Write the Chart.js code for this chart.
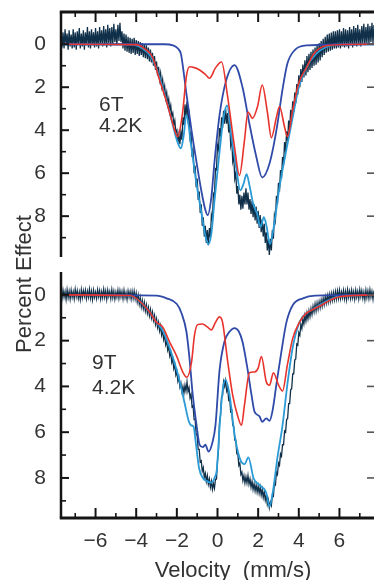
<!DOCTYPE html>
<html>
<head>
<meta charset="utf-8">
<script src="https://cdn.jsdelivr.net/npm/chart.js@4.4.1/dist/chart.umd.min.js"></script>
<style>
  html, body { margin: 0; padding: 0; background: #fff; }
  #wrap { position: relative; width: 374px; height: 580px; overflow: hidden; background: #fff; }
  .pane { position: absolute; left: 0; width: 374px; }
  .lbl { position: absolute; font-family: "Liberation Sans", Arial, sans-serif; color: #333; white-space: pre; }
</style>
</head>
<body>
<div id="wrap">
  <div class="pane" style="top:0;height:265px"><canvas id="c1"></canvas></div>
  <div class="pane" style="top:265px;height:315px"><canvas id="c2"></canvas></div>
  <div class="lbl" style="left:99px;top:93px;font-size:21px;line-height:21px">6T</div>
  <div class="lbl" style="left:99px;top:114px;font-size:21px;line-height:21px">4.2K</div>
  <div class="lbl" style="left:92px;top:351px;font-size:21px;line-height:21px">9T</div>
  <div class="lbl" style="left:92px;top:376px;font-size:21px;line-height:21px">4.2K</div>
  <div class="lbl" style="left:-76px;top:273px;width:200px;height:22px;text-align:center;font-size:22px;line-height:22px;transform:rotate(-90deg)">Percent Effect</div>
  <div class="lbl" style="left:0;top:559px;width:466px;text-align:center;font-size:22px;line-height:22px">Velocity  (mm/s)</div>
</div>
<script>
// ---------- tick values ----------
const xMajorTicks = [-6, -4, -2, 0, 2, 4, 6];
const xMinorTicks = [-7, -5, -3, -1, 1, 3, 5, 7];
const yMajorTicks = [0, 2, 4, 6, 8];
const yMinorTicks = [1, 3, 5, 7, 9];

// ---------- measured spectra: velocity channels (mm/s) ----------
const velocity = [
 -7.70,-7.65,-7.60,-7.55,-7.50,-7.45,-7.40,-7.35,-7.30,-7.25,
 -7.20,-7.15,-7.10,-7.05,-7.00,-6.95,-6.90,-6.85,-6.80,-6.75,
 -6.70,-6.65,-6.60,-6.55,-6.50,-6.45,-6.40,-6.35,-6.30,-6.25,
 -6.20,-6.15,-6.10,-6.05,-6.00,-5.95,-5.90,-5.85,-5.80,-5.75,
 -5.70,-5.65,-5.60,-5.55,-5.50,-5.45,-5.40,-5.35,-5.30,-5.25,
 -5.20,-5.15,-5.10,-5.05,-5.00,-4.95,-4.90,-4.85,-4.80,-4.75,
 -4.70,-4.65,-4.60,-4.55,-4.50,-4.45,-4.40,-4.35,-4.30,-4.25,
 -4.20,-4.15,-4.10,-4.05,-4.00,-3.95,-3.90,-3.85,-3.80,-3.75,
 -3.70,-3.65,-3.60,-3.55,-3.50,-3.45,-3.40,-3.35,-3.30,-3.25,
 -3.20,-3.15,-3.10,-3.05,-3.00,-2.95,-2.90,-2.85,-2.80,-2.75,
 -2.70,-2.65,-2.60,-2.55,-2.50,-2.45,-2.40,-2.35,-2.30,-2.25,
 -2.20,-2.15,-2.10,-2.05,-2.00,-1.95,-1.90,-1.85,-1.80,-1.75,
 -1.70,-1.65,-1.60,-1.55,-1.50,-1.45,-1.40,-1.35,-1.30,-1.25,
 -1.20,-1.15,-1.10,-1.05,-1.00,-0.95,-0.90,-0.85,-0.80,-0.75,
 -0.70,-0.65,-0.60,-0.55,-0.50,-0.45,-0.40,-0.35,-0.30,-0.25,
 -0.20,-0.15,-0.10,-0.05,0.00,0.05,0.10,0.15,0.20,0.25,
 0.30,0.35,0.40,0.45,0.50,0.55,0.60,0.65,0.70,0.75,
 0.80,0.85,0.90,0.95,1.00,1.05,1.10,1.15,1.20,1.25,
 1.30,1.35,1.40,1.45,1.50,1.55,1.60,1.65,1.70,1.75,
 1.80,1.85,1.90,1.95,2.00,2.05,2.10,2.15,2.20,2.25,
 2.30,2.35,2.40,2.45,2.50,2.55,2.60,2.65,2.70,2.75,
 2.80,2.85,2.90,2.95,3.00,3.05,3.10,3.15,3.20,3.25,
 3.30,3.35,3.40,3.45,3.50,3.55,3.60,3.65,3.70,3.75,
 3.80,3.85,3.90,3.95,4.00,4.05,4.10,4.15,4.20,4.25,
 4.30,4.35,4.40,4.45,4.50,4.55,4.60,4.65,4.70,4.75,
 4.80,4.85,4.90,4.95,5.00,5.05,5.10,5.15,5.20,5.25,
 5.30,5.35,5.40,5.45,5.50,5.55,5.60,5.65,5.70,5.75,
 5.80,5.85,5.90,5.95,6.00,6.05,6.10,6.15,6.20,6.25,
 6.30,6.35,6.40,6.45,6.50,6.55,6.60,6.65,6.70,6.75,
 6.80,6.85,6.90,6.95,7.00,7.05,7.10,7.15,7.20,7.25,
 7.30,7.35,7.40,7.45,7.50,7.55,7.60,7.65,7.70
];

// 6 T, 4.2 K measured spectrum (percent effect)
const data6T = [
 -0.6,0.15,-0.55,0.2,-0.7,0.05,-0.5,0.25,-0.65,0.1,
 -0.45,0.2,-0.7,0.15,-0.55,0.25,-0.6,0.0,-0.75,0.2,
 -0.5,0.1,-0.65,0.25,-0.55,0.05,-0.8,0.15,-0.6,0.2,
 -0.7,0.05,-0.55,0.15,-0.75,0.1,-0.6,0.2,-0.8,0.0,
 -0.65,0.1,-0.85,0.05,-0.7,0.15,-0.9,-0.05,-0.75,0.1,
 -0.8,0.0,-0.95,-0.1,-0.7,0.05,-0.9,-0.15,-1.0,-0.1,
 -0.6,0.2,-0.5,0.3,-0.45,0.35,-0.35,0.4,-0.3,0.45,
 -0.25,0.4,-0.3,0.5,-0.2,0.45,-0.15,0.55,-0.1,0.5,
 -0.05,0.6,0.0,0.65,0.05,0.7,0.15,0.8,0.25,0.85,
 0.4,1.0,0.55,1.2,0.8,1.45,1.05,1.65,1.35,1.95,
 1.65,2.2,1.95,2.5,2.25,2.8,2.55,3.1,2.85,3.35,
 3.2,3.75,3.55,4.1,4.0,4.6,4.2,4.65,4.1,4.45,
 3.4,3.75,2.8,3.35,2.65,3.5,3.25,4.35,4.15,5.25,
 4.95,6.0,5.65,6.65,6.25,7.25,6.85,7.85,7.45,8.45,
 8.05,8.95,8.45,9.25,8.65,9.35,8.55,9.0,7.95,8.2,
 6.95,7.05,5.8,5.85,4.7,4.9,3.9,4.3,3.4,3.9,
 3.1,3.7,3.0,3.7,3.2,4.1,3.7,4.7,4.4,5.45,
 5.2,6.25,6.0,6.95,6.6,7.45,7.0,7.7,7.05,7.65,
 6.9,7.45,6.7,7.45,6.9,7.7,7.2,7.9,7.3,8.05,
 7.45,8.2,7.55,8.35,7.75,8.55,7.95,8.75,8.15,8.95,
 8.35,9.25,8.75,9.6,9.05,9.8,9.05,9.6,8.65,9.05,
 7.95,8.2,7.05,7.45,6.45,6.85,5.85,6.25,5.25,5.6,
 4.55,5.0,4.05,4.5,3.55,4.0,3.05,3.55,2.65,3.15,
 2.25,2.75,1.85,2.35,1.45,2.0,1.15,1.75,0.95,1.55,
 0.75,1.45,0.55,1.3,0.45,1.2,0.35,1.1,0.25,1.0,
 0.15,0.95,0.05,0.85,-0.05,0.75,-0.15,0.6,-0.25,0.5,
 -0.35,0.4,-0.45,0.35,-0.5,0.3,-0.55,0.25,-0.6,0.2,
 -0.6,0.2,-0.65,0.15,-0.7,0.2,-0.6,0.1,-0.75,0.15,
 -0.7,0.1,-0.65,0.2,-0.8,0.05,-0.7,0.15,-0.85,0.05,
 -0.75,0.1,-0.9,0.0,-0.7,0.1,-0.85,-0.05,-0.95,0.05,
 -0.8,-0.05,-0.95,0.0,-0.85,-0.1,-1.0,-0.05,-0.9
];

// 9 T, 4.2 K measured spectrum (percent effect)
const data9T = [
 -0.18,0.15,-0.2,0.1,-0.15,0.2,-0.22,0.12,-0.16,0.18,
 -0.2,0.1,-0.14,0.17,-0.24,0.08,-0.18,0.15,-0.12,0.2,
 -0.22,0.12,-0.18,0.06,-0.2,0.16,-0.15,0.1,-0.24,0.14,
 -0.16,0.2,-0.2,0.1,-0.12,0.15,-0.22,0.08,-0.18,0.17,
 -0.14,0.12,-0.24,0.1,-0.17,0.19,-0.2,0.07,-0.15,0.16,
 -0.22,0.12,-0.16,0.18,-0.12,0.1,-0.2,0.15,-0.18,0.09,
 -0.15,0.17,-0.2,0.12,-0.1,0.2,-0.17,0.1,-0.14,0.18,
 -0.15,0.15,-0.16,0.18,-0.08,0.3,0.02,0.4,0.12,0.52,
 0.25,0.6,0.33,0.7,0.44,0.8,0.55,0.9,0.64,1.0,
 0.75,1.12,0.9,1.28,1.05,1.42,1.2,1.57,1.35,1.75,
 1.55,1.95,1.75,2.17,2.0,2.42,2.25,2.67,2.5,2.95,
 2.8,3.22,3.05,3.5,3.35,3.77,3.6,4.02,3.85,4.22,
 4.0,4.3,3.95,4.2,3.8,4.22,4.05,4.5,4.35,4.9,
 4.85,5.45,5.45,6.1,6.15,6.75,6.75,7.3,7.25,7.7,
 7.55,7.97,7.8,8.15,7.9,8.27,8.05,8.4,8.15,8.5,
 8.25,8.45,8.05,8.05,7.25,6.75,5.55,5.25,4.45,4.4,
 3.8,4.0,3.75,4.2,4.05,4.6,4.55,5.1,5.05,5.7,
 5.75,6.35,6.35,6.95,6.95,7.45,7.35,7.85,7.75,8.12,
 7.9,8.22,7.95,8.22,7.9,8.27,8.05,8.4,8.15,8.5,
 8.25,8.57,8.3,8.62,8.35,8.67,8.4,8.75,8.5,8.85,
 8.6,8.97,8.75,9.15,8.95,9.3,9.05,9.2,8.75,8.8,
 8.25,8.3,7.75,7.85,7.35,7.45,6.95,7.05,6.55,6.55,
 5.95,6.0,5.45,5.4,4.75,4.75,4.15,4.1,3.45,3.45,
 2.85,2.8,2.15,2.2,1.65,1.77,1.3,1.47,1.05,1.27,
 0.9,1.15,0.8,1.05,0.7,0.95,0.6,0.85,0.5,0.75,
 0.4,0.7,0.35,0.62,0.3,0.56,0.23,0.49,0.15,0.42,
 0.08,0.36,0.03,0.31,-0.02,0.27,-0.06,0.23,-0.1,0.2,
 -0.14,0.18,-0.17,0.15,-0.2,0.16,-0.13,0.12,-0.19,0.17,
 -0.15,0.2,-0.22,0.1,-0.16,0.15,-0.2,0.12,-0.14,0.18,
 -0.2,0.1,-0.15,0.17,-0.22,0.08,-0.18,0.15,-0.12,0.2,
 -0.2,0.12,-0.17,0.15,-0.22,0.1,-0.15,0.18,-0.19
];

// ---------- fitted curves, 6 T ----------
const fitTotal6T_v = [-7.7,-4.2,-3.7,-3.3,-3.0,-2.7,-2.4,-2.15,-1.95,-1.8,-1.67,-1.53,-1.3,-1.05,-0.8,-0.6,-0.45,-0.3,-0.15,0.1,0.3,0.47,0.7,0.93,1.12,1.28,1.43,1.58,1.75,1.95,2.12,2.28,2.42,2.58,2.75,3.05,3.39,3.7,4.0,4.4,4.85,5.3,5.8,7.7];
const fitTotal6T   = [0,0.02,0.2,0.55,1.15,2.0,3.0,3.95,4.6,4.85,4.3,3.3,4.7,6.4,7.8,8.9,9.3,8.8,7.3,5.0,3.4,2.85,4.4,5.8,6.8,6.5,6.05,6.6,7.4,7.9,8.5,8.05,8.5,9.3,8.6,6.65,4.9,3.4,2.0,1.05,0.45,0.15,0.03,0];

const siteA6T_v = [-7.7,-4.0,-3.6,-3.2,-2.85,-2.5,-2.2,-1.96,-1.72,-1.53,-1.38,-1.1,-0.88,-0.6,-0.39,-0.1,0.2,0.5,0.84,1.08,1.33,1.5,1.72,1.97,2.2,2.46,2.65,2.9,3.05,3.3,3.44,3.7,4.0,4.4,4.7,5.0,5.5,7.7];
const siteA6T   = [0,0.02,0.2,0.6,1.67,2.7,3.7,4.3,3.2,1.5,1.05,1.1,1.2,1.4,1.58,1.1,0.83,2.45,4.8,6.1,4.45,3.15,3.45,2.9,1.9,3.2,4.35,3.4,2.9,3.85,4.3,3.06,1.8,1.05,0.5,0.2,0.05,0];

const siteB6T_v = [-7.7,-2.6,-2.2,-1.95,-1.8,-1.7,-1.53,-1.28,-1.03,-0.8,-0.6,-0.48,-0.3,-0.15,0.1,0.43,0.84,1.23,1.57,1.9,2.2,2.56,2.9,3.2,3.44,3.8,4.4,7.7];
const siteB6T   = [0,0,0.05,0.2,0.45,1.05,2.3,4.0,5.5,6.8,7.7,7.95,7.1,5.5,3.3,1.67,0.97,2.0,3.7,5.2,6.2,5.55,4.0,2.1,0.9,0.27,0.05,0];

// ---------- fitted curves, 9 T ----------
const fitTotal9T_v = [-7.7,-4.3,-3.8,-3.34,-3.0,-2.7,-2.36,-2.0,-1.8,-1.6,-1.42,-1.3,-1.18,-1.05,-0.9,-0.72,-0.5,-0.3,-0.15,-0.03,0.1,0.25,0.39,0.59,0.84,1.08,1.33,1.52,1.77,2.06,2.4,2.56,2.75,2.95,3.2,3.44,3.7,4.03,4.37,4.67,5.0,5.5,6.0,7.7];
const fitTotal9T   = [0,0.03,0.3,0.75,1.2,1.55,2.3,3.3,4.0,4.8,5.5,5.7,5.75,6.6,7.6,8.0,8.15,8.2,8.0,7.6,5.8,4.2,3.7,4.35,6.1,7.1,7.4,7.1,8.0,8.3,8.65,9.25,8.45,7.1,5.7,3.9,2.3,1.2,0.8,0.65,0.45,0.22,0.06,0];

const siteA9T_v = [-7.7,-4.3,-3.8,-3.34,-3.0,-2.7,-2.36,-2.0,-1.72,-1.51,-1.28,-1.13,-0.98,-0.74,-0.5,-0.3,-0.1,0.1,0.25,0.5,0.74,0.98,1.18,1.33,1.57,1.82,2.0,2.16,2.4,2.56,2.75,3.0,3.2,3.44,3.7,4.03,4.37,4.67,5.0,5.5,6.0,7.7];
const siteA9T   = [0,0.03,0.3,0.75,1.2,1.4,2.05,2.7,3.35,3.6,2.95,1.75,1.3,1.27,1.4,1.53,1.2,0.96,1.2,2.9,4.35,5.25,5.7,4.8,3.4,3.37,3.2,2.7,3.8,3.95,3.4,3.93,4.2,3.05,1.9,1.2,0.8,0.65,0.5,0.25,0.08,0];

const siteB9T_v = [-7.7,-3.0,-2.5,-2.0,-1.77,-1.53,-1.38,-1.22,-1.03,-0.88,-0.72,-0.6,-0.44,-0.25,-0.1,0.1,0.34,0.6,0.84,1.05,1.23,1.47,1.67,1.82,2.06,2.2,2.4,2.56,2.7,2.9,3.14,3.39,3.7,4.2,4.8,7.7];
const siteB9T   = [0,0.03,0.15,0.4,0.8,1.6,2.75,4.35,5.7,6.55,6.65,6.55,6.85,6.45,5.7,3.3,2.05,1.6,1.45,1.6,2.05,3.2,4.35,5.1,5.3,5.55,5.4,5.5,5.1,3.9,2.5,1.2,0.45,0.15,0.03,0];

// ---------- styling ----------
const FONT = "'Liberation Sans', Arial, sans-serif";
const C_DATA = '#10304a', C_FIT = '#2a9bd6', C_B = '#2f4aa8', C_A = '#e8332c';

const zip = (xs, ys) => xs.map((v, i) => ({ x: v, y: ys[i] }));
const fmt = v => (v < 0 ? '\u2212' + Math.abs(v) : String(v));
const noPad = s => { s.paddingTop = 0; s.paddingBottom = 0; s.paddingLeft = 0; s.paddingRight = 0; };

const framePlugin = {
  id: 'frame',
  afterDatasetsDraw(chart, args, o) {
    const { ctx, chartArea: a } = chart;
    const xs = chart.scales.x, ys = chart.scales.y;
    ctx.save();
    ctx.lineCap = 'butt';
    const seg = (x1, y1, x2, y2, w, c) => {
      ctx.strokeStyle = c || '#141414'; ctx.lineWidth = w;
      ctx.beginPath(); ctx.moveTo(x1, y1); ctx.lineTo(x2, y2); ctx.stroke();
    };
    seg(a.left, a.top, a.left, a.bottom, 2.5);
    yMajorTicks.forEach(v => {
      const p = ys.getPixelForValue(v);
      seg(a.left, p, a.left + 8, p, 2);
      seg(a.right - 7, p, a.right, p, 1.6, '#555');
    });
    yMinorTicks.forEach(v => {
      const p = ys.getPixelForValue(v);
      seg(a.left, p, a.left + 5, p, 1.6);
    });
    if (o.edge === 'top') {
      seg(a.left - 1.2, a.top, a.right, a.top, 3);
      xMajorTicks.forEach(v => { const p = xs.getPixelForValue(v); seg(p, a.top, p, a.top + 10, 2); });
      xMinorTicks.forEach(v => { const p = xs.getPixelForValue(v); seg(p, a.top, p, a.top + 5, 1.6); });
    } else {
      seg(a.left - 1.2, a.bottom, a.right, a.bottom, 3);
      xMajorTicks.forEach(v => { const p = xs.getPixelForValue(v); seg(p, a.bottom, p, a.bottom - 10, 2); });
      xMinorTicks.forEach(v => { const p = xs.getPixelForValue(v); seg(p, a.bottom, p, a.bottom - 5, 1.6); });
    }
    ctx.restore();
  }
};

function makeChart(id, d, total, totV, siteA, aV, siteB, bV, yMin, yMax, isTop) {
  return new Chart(document.getElementById(id), {
    type: 'line',
    data: {
      datasets: [
        { data: zip(velocity, d), borderColor: C_DATA, borderWidth: 1.3, pointRadius: 0, tension: 0, order: 4 },
        { data: zip(totV, total), borderColor: C_FIT, borderWidth: 1.8, pointRadius: 0, cubicInterpolationMode: 'monotone', order: 3 },
        { data: zip(bV, siteB), borderColor: C_B, borderWidth: 1.8, pointRadius: 0, cubicInterpolationMode: 'monotone', order: 2 },
        { data: zip(aV, siteA), borderColor: C_A, borderWidth: 1.6, pointRadius: 0, cubicInterpolationMode: 'monotone', order: 1 }
      ]
    },
    options: {
      responsive: true, maintainAspectRatio: false, animation: false, events: [], devicePixelRatio: 1,
      layout: { padding: isTop ? { top: 12, bottom: 8, left: 0, right: 0 } : { top: 7, bottom: 0, left: 0, right: 0 } },
      plugins: { legend: { display: false }, tooltip: { enabled: false }, frame: { edge: isTop ? 'top' : 'bottom' } },
      scales: {
        x: {
          type: 'linear', min: -7.7, max: 7.7, display: !isTop,
          grid: { display: false }, border: { display: false },
          afterBuildTicks: s => { s.ticks = xMajorTicks.map(v => ({ value: v })); },
          afterFit: s => { noPad(s); if (!isTop) s.height = 62; },
          ticks: { autoSkip: false, maxRotation: 0, padding: 3, color: '#333', font: { family: FONT, size: 21 }, callback: v => fmt(v) }
        },
        y: {
          type: 'linear', reverse: true, min: yMin, max: yMax,
          grid: { display: false }, border: { display: false },
          afterBuildTicks: s => { s.ticks = yMajorTicks.map(v => ({ value: v })); },
          afterFit: s => { noPad(s); s.width = 61; },
          ticks: { padding: 7, color: '#333', font: { family: FONT, size: 21 }, callback: v => fmt(v) }
        }
      }
    },
    plugins: [framePlugin]
  });
}

makeChart('c1', data6T, fitTotal6T, fitTotal6T_v, siteA6T, siteA6T_v, siteB6T, siteB6T_v, -1.5, 9.9, true);
makeChart('c2', data9T, fitTotal9T, fitTotal9T_v, siteA9T, siteA9T_v, siteB9T, siteB9T_v, -1.0, 9.75, false);
</script>
</body>
</html>
